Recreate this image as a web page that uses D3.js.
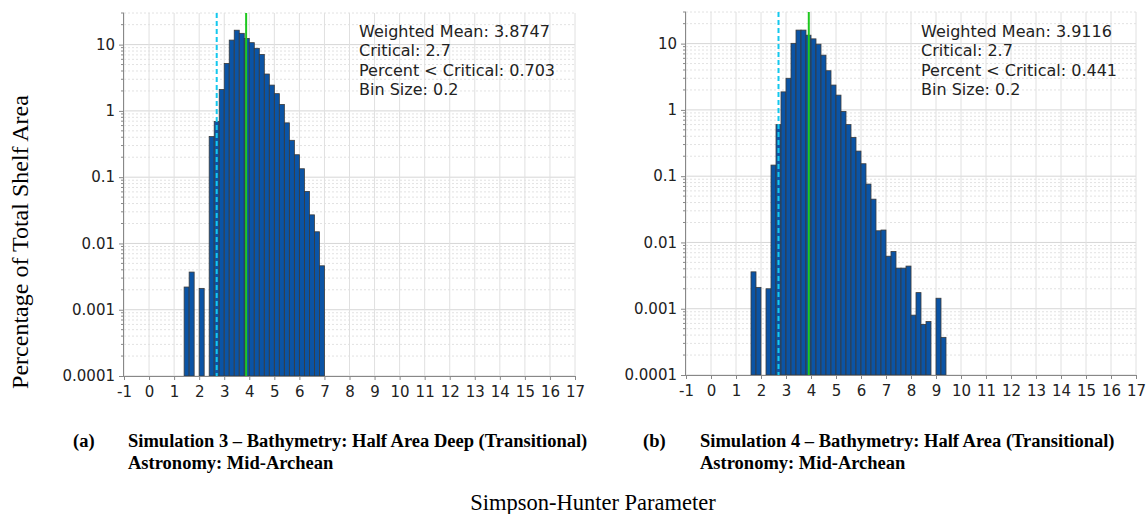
<!DOCTYPE html>
<html>
<head>
<meta charset="utf-8">
<script src="https://cdn.jsdelivr.net/npm/d3@7"></script>
<style>
  body { margin: 0; background: #fff; }
</style>
</head>
<body>
<script>
// Data
const xTicks = d3.range(-1, 18);
const yTicks = [10, 1, 0.1, 0.01, 0.001, 0.0001];
const yTickLabels = ["10", "1", "0.1", "0.01", "0.001", "0.0001"];
const binSize = 0.2;

// lower edge of each bin and its percentage
const binsA = [1.4, 1.6, 2.0, 2.4, 2.6, 2.8, 3.0, 3.2, 3.4, 3.6, 3.8, 4.0, 4.2, 4.4, 4.6, 4.8, 5.0, 5.2, 5.4, 5.6, 5.8, 6.0, 6.2, 6.4, 6.6, 6.8];
const valuesA = [0.0022, 0.0037, 0.0021, 0.41, 0.69, 2.1, 5.2, 11.7, 16.5, 14.8, 12.4, 10.7, 8.8, 7.1, 3.6, 2.45, 1.82, 1.25, 0.66, 0.36, 0.218, 0.134, 0.061, 0.027, 0.015, 0.0046];

const binsB = [1.6, 1.8, 2.2, 2.4, 2.6, 2.8, 3.0, 3.2, 3.4, 3.6, 3.8, 4.0, 4.2, 4.4, 4.6, 4.8, 5.0, 5.2, 5.4, 5.6, 5.8, 6.0, 6.2, 6.4, 6.6, 6.8, 7.0, 7.2, 7.4, 7.6, 7.8, 8.0, 8.2, 8.4, 8.6, 9.0, 9.2];
const valuesB = [0.0036, 0.0021, 0.002, 0.147, 0.6, 1.87, 3.0, 10.1, 16.0, 16.0, 13.4, 11.8, 9.8, 6.7, 3.9, 2.37, 1.67, 0.95, 0.6, 0.385, 0.239, 0.154, 0.076, 0.045, 0.015, 0.0154, 0.0062, 0.0073, 0.0041, 0.0041, 0.0044, 0.0008, 0.00175, 0.00058, 0.00064, 0.00144, 0.00037];

const statsA = ["Weighted Mean: 3.8747", "Critical: 2.7", "Percent < Critical: 0.703", "Bin Size: 0.2"];
const statsB = ["Weighted Mean: 3.9116", "Critical: 2.7", "Percent < Critical: 0.441", "Bin Size: 0.2"];
const meanA = 3.8747, meanB = 3.9116, critical = 2.7;

const svg = d3.select("body").append("svg")
  .attr("width", 1147)
  .attr("height", 514)
  .style("font-family", "'DejaVu Sans', sans-serif");

function panel(left, right, top, bottom, bins, values, mean, stats, textX) {
  const x = d3.scaleLinear().domain([-1, 17]).range([left, right]);
  const y = d3.scaleLog().domain([1e-4, 30]).range([bottom, top]);
  const g = svg.append("g");

  // minor horizontal grid (dotted)
  const minor = [];
  for (let e = -4; e <= 1; e++) {
    for (let m = 2; m <= 9; m++) {
      const v = m * Math.pow(10, e);
      if (v <= 30) minor.push(v);
    }
  }
  g.selectAll(".minor").data(minor).join("line")
    .attr("x1", left).attr("x2", right)
    .attr("y1", d => y(d)).attr("y2", d => y(d))
    .attr("stroke", "#e2e2e2")
    .attr("stroke-dasharray", "2,2");

  // major grid
  g.selectAll(".hmajor").data(yTicks).join("line")
    .attr("x1", left).attr("x2", right)
    .attr("y1", d => y(d)).attr("y2", d => y(d))
    .attr("stroke", "#d6d6d6");
  g.selectAll(".vmajor").data(xTicks).join("line")
    .attr("x1", d => x(d)).attr("x2", d => x(d))
    .attr("y1", top).attr("y2", bottom)
    .attr("stroke", "#e0e0e0");

  // bars
  g.selectAll(".bar").data(bins.map((b, i) => ({ b: b, v: values[i] }))).join("rect")
    .attr("x", d => x(d.b))
    .attr("width", d => x(d.b + binSize) - x(d.b))
    .attr("y", d => y(d.v))
    .attr("height", d => bottom - y(d.v))
    .attr("fill", "#0b54a5")
    .attr("stroke", "#3a3a3a")
    .attr("stroke-width", 0.8);

  // critical and mean lines
  g.append("line")
    .attr("x1", x(critical)).attr("x2", x(critical))
    .attr("y1", top).attr("y2", bottom)
    .attr("stroke", "#14c8ee")
    .attr("stroke-width", 2)
    .attr("stroke-dasharray", "5,3");
  g.append("line")
    .attr("x1", x(mean)).attr("x2", x(mean))
    .attr("y1", top).attr("y2", bottom)
    .attr("stroke", "#1ec81e")
    .attr("stroke-width", 2);

  // axes
  const xAxis = g.append("g")
    .attr("transform", `translate(0,${bottom})`)
    .call(d3.axisBottom(x).tickValues(xTicks).tickSize(4).tickFormat(d => String(d)));
  xAxis.select(".domain").attr("stroke", "#888");
  xAxis.selectAll(".tick line").attr("stroke", "#888");
  xAxis.selectAll("text")
    .attr("font-size", 15).attr("fill", "#222")
    .attr("font-family", "'DejaVu Sans', sans-serif")
    .attr("dy", "0.95em");

  const yAxis = g.append("g")
    .attr("transform", `translate(${left},0)`)
    .call(d3.axisLeft(y).tickValues(yTicks).tickSize(5)
      .tickFormat((d, i) => yTickLabels[i]));
  yAxis.select(".domain").attr("stroke", "#888")
    .attr("d", `M-0.5,${top}V${bottom}`);
  yAxis.selectAll(".tick line").attr("stroke", "#888");
  yAxis.selectAll("text")
    .attr("font-size", 15).attr("fill", "#222")
    .attr("font-family", "'DejaVu Sans', sans-serif")
    .attr("x", -9);
  yAxis.selectAll(".mtick").data(minor).join("line")
    .attr("x1", -3).attr("x2", 0)
    .attr("y1", d => y(d)).attr("y2", d => y(d))
    .attr("stroke", "#888");

  // stats text
  g.selectAll(".stat").data(stats).join("text")
    .attr("x", textX)
    .attr("y", (d, i) => 37 + i * 19.3)
    .attr("font-size", 16)
    .attr("fill", "#222")
    .text(d => d);
}

panel(124, 575, 13, 376, binsA, valuesA, meanA, statsA, 359);
panel(686, 1136, 12, 375, binsB, valuesB, meanB, statsB, 921);

// y label
svg.append("text")
  .attr("transform", "translate(28,242) rotate(-90)")
  .attr("text-anchor", "middle")
  .attr("font-family", "'Liberation Serif', serif")
  .attr("font-size", 24)
  .text("Percentage of Total Shelf Area");

// captions
const caps = [
  { x: 73, tx: 128, tag: "(a)", l1: "Simulation 3 – Bathymetry: Half Area Deep (Transitional)" },
  { x: 643, tx: 700, tag: "(b)", l1: "Simulation 4 – Bathymetry: Half Area (Transitional)" }
];
caps.forEach(c => {
  const t = svg.append("g")
    .attr("font-family", "'Liberation Serif', serif")
    .attr("font-weight", "bold")
    .attr("font-size", 18.5);
  t.append("text").attr("x", c.x).attr("y", 447).text(c.tag);
  t.append("text").attr("x", c.tx).attr("y", 447).text(c.l1);
  t.append("text").attr("x", c.tx).attr("y", 469).text("Astronomy: Mid-Archean");
});

svg.append("text")
  .attr("x", 593)
  .attr("y", 510)
  .attr("text-anchor", "middle")
  .attr("font-family", "'Liberation Serif', serif")
  .attr("font-size", 22.5)
  .text("Simpson-Hunter Parameter");
</script>
</body>
</html>
